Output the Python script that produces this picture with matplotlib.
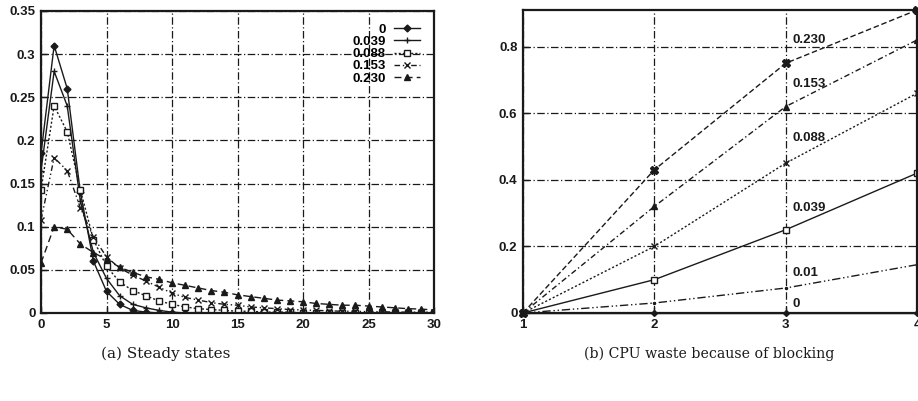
import matplotlib
matplotlib.use('Agg')
import matplotlib.pyplot as plt

# (a) steady states
steps = list(range(31))
labels_a = ['0', '0.039', '0.088', '0.153', '0.230']
p_0 = [0.185, 0.31, 0.26, 0.14, 0.06, 0.025, 0.01, 0.003, 0.001] + [0.0] * 22
p_039 = [0.165, 0.28, 0.24, 0.13, 0.07, 0.04, 0.02, 0.01, 0.006, 0.003, 0.001] + [0.0] * 20
p_088 = [0.143, 0.24, 0.21, 0.143, 0.085, 0.054, 0.036, 0.026, 0.02, 0.014, 0.010,
         0.007, 0.005, 0.004, 0.003, 0.002, 0.002, 0.001, 0.001, 0.001] + [0.0] * 11
p_153 = [0.108, 0.18, 0.165, 0.122, 0.088, 0.065, 0.052, 0.044, 0.037, 0.030, 0.023,
         0.018, 0.015, 0.012, 0.010, 0.009, 0.007, 0.006, 0.005, 0.004, 0.0035,
         0.003, 0.0025, 0.002, 0.002, 0.0015, 0.0015, 0.001, 0.001, 0.001, 0.001]
p_230 = [0.058, 0.10, 0.097, 0.08, 0.07, 0.062, 0.053, 0.047, 0.042, 0.039, 0.035,
         0.032, 0.029, 0.026, 0.024, 0.021, 0.019, 0.017, 0.015, 0.014, 0.013,
         0.011, 0.010, 0.009, 0.009, 0.008, 0.007, 0.006, 0.005, 0.0045, 0.0035]

# (b) cpu waste
procs = [1, 2, 3, 4]
labels_b = ['0', '0.01', '0.039', '0.088', '0.153', '0.230']
w_0 = [0, 0, 0, 0]
w_01 = [0, 0.03, 0.075, 0.145]
w_039 = [0, 0.10, 0.25, 0.42]
w_088 = [0, 0.20, 0.45, 0.66]
w_153 = [0, 0.32, 0.62, 0.82]
w_230 = [0, 0.43, 0.75, 0.91]
label_y = [0.027, 0.12, 0.315, 0.525, 0.687, 0.82]

ink = '#1a1a1a'
fsize = 9.5

fig = plt.figure(figsize=(9.18, 4.01), dpi=100)
ax1 = fig.add_axes([0.0447, 0.2195, 0.4281, 0.7531])
ax2 = fig.add_axes([0.5697, 0.2195, 0.4293, 0.7556])

def style(ax):
    ax.grid(True, color=ink, linestyle=(0, (6, 2, 1, 2)), linewidth=0.9)
    for s in ax.spines.values():
        s.set_linewidth(1.6)
        s.set_color(ink)
    ax.tick_params(direction='in', length=4, width=1, color=ink, pad=4)
    for t in ax.get_xticklabels() + ax.get_yticklabels():
        t.set_fontfamily('Liberation Sans')
        t.set_fontweight('bold')
        t.set_fontsize(fsize)
        t.set_color(ink)

series_a = [p_0, p_039, p_088, p_153, p_230]
styles_a = [
    dict(ls='-', marker='D', ms=3.5, mfc=ink),
    dict(ls='-', marker='+', ms=5),
    dict(ls=(0, (1.5, 1.5)), marker='s', ms=4, mfc='white'),
    dict(ls=(0, (4, 2, 1, 2, 1, 2)), marker='x', ms=5),
    dict(ls=(0, (5, 3)), marker='^', ms=4, mfc=ink),
]
for lab, ys, st in zip(labels_a, series_a, styles_a):
    ax1.plot(steps, ys, color=ink, lw=1.0, label=lab, mec=ink, mew=1.0, **st)

ax1.set_xlim(0, 30)
ax1.set_ylim(0, 0.35)
ax1.set_xticks([0, 5, 10, 15, 20, 25, 30])
ax1.set_yticks([0, 0.05, 0.1, 0.15, 0.2, 0.25, 0.3, 0.35])
ax1.set_yticklabels(['0', '0.05', '0.1', '0.15', '0.2', '0.25', '0.3', '0.35'])
style(ax1)
leg = ax1.legend(loc='upper right', bbox_to_anchor=(0.985, 0.985), frameon=False,
                 markerfirst=False, handlelength=2.0, handletextpad=0.6,
                 labelspacing=0.0, borderaxespad=0.2,
                 prop=dict(family='Liberation Sans', weight='bold', size=fsize))

series_b = [w_0, w_01, w_039, w_088, w_153, w_230]
styles_b = [
    dict(ls='-', marker='D', ms=3, mfc=ink),
    dict(ls=(0, (6, 2, 1, 2, 1, 2)), marker='.', ms=3),
    dict(ls='-', marker='s', ms=5, mfc='white'),
    dict(ls=(0, (1.5, 1.5)), marker='x', ms=5),
    dict(ls=(0, (4, 2, 1, 2)), marker='^', ms=5, mfc=ink),
    dict(ls=(0, (4, 2)), marker='X', ms=6, mfc=ink),
]
for lab, ys, st, ly in zip(labels_b, series_b, styles_b, label_y):
    ax2.plot(procs, ys, color=ink, lw=1.0, mec=ink, mew=1.0, clip_on=False, **st)
    ax2.text(3.05, ly, lab, color=ink, family='Liberation Sans', weight='bold',
             size=fsize, va='center')

ax2.set_xlim(1, 4)
ax2.set_ylim(0, 0.91)
ax2.set_xticks([1, 2, 3, 4])
ax2.set_yticks([0, 0.2, 0.4, 0.6, 0.8])
ax2.set_yticklabels(['0', '0.2', '0.4', '0.6', '0.8'])
style(ax2)

fig.text(0.18, 0.117, '(a) Steady states', ha='center', va='center',
         family='DejaVu Serif', size=11, color=ink)
fig.text(0.772, 0.117, '(b) CPU waste because of blocking', ha='center', va='center',
         family='DejaVu Serif', size=10.2, color=ink)

fig.savefig('out.png', dpi=100)
